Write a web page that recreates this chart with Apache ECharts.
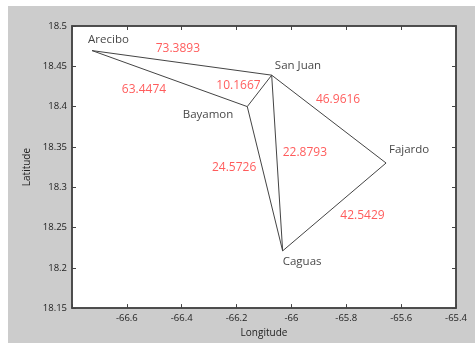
<!DOCTYPE html>
<html><head><meta charset="utf-8">
<script src="https://cdn.jsdelivr.net/npm/echarts@6/dist/echarts.min.js"></script>
<style>html,body{margin:0;padding:0;background:#fff;}#c{width:475px;height:343px;}</style>
</head><body><div id="c"></div>
<script>
// Data
var cities = ['Arecibo', 'San Juan', 'Bayamon', 'Fajardo', 'Caguas'];
var cityLon = [-66.727, -66.072, -66.161, -65.655, -66.032];
var cityLat = [18.4695, 18.439, 18.400, 18.330, 18.221];
var edgeFrom = [0, 0, 2, 2, 1, 1, 3];
var edgeTo   = [1, 2, 1, 4, 4, 3, 4];
var edgeWeights = ['73.3893', '63.4474', '10.1667', '24.5726', '22.8793', '46.9616', '42.5429'];
var edgeLabelLon = [-66.414, -66.5375, -66.193, -66.209, -65.951, -65.830, -65.741];
var edgeLabelLat = [18.4716, 18.4209, 18.4258, 18.3244, 18.3433, 18.4093, 18.265];
var cityLabelLon = [-66.667, -65.976, -66.304, -65.571, -65.961];
var cityLabelLat = [18.4827, 18.4505, 18.390, 18.3466, 18.2073];
var xTicks = [-66.8, -66.6, -66.4, -66.2, -66, -65.8, -65.6, -65.4];
var yTicks = [18.15, 18.2, 18.25, 18.3, 18.35, 18.4, 18.45, 18.5];

var FONT = '"Open Sans", "DejaVu Sans", sans-serif';
var series = [];
for (var i = 0; i < edgeFrom.length; i++) {
  var a = edgeFrom[i], b = edgeTo[i];
  series.push({
    type: 'line', xAxisIndex: 0, yAxisIndex: 0, symbol: 'none', silent: true,
    lineStyle: { color: '#444', width: 1 },
    data: [[cityLon[a], cityLat[a]], [cityLon[b], cityLat[b]]]
  });
}
series.push({
  type: 'scatter', symbolSize: 0, silent: true,
  label: { show: true, position: 'inside', formatter: function (p) { return p.data[2]; },
    color: '#ff3333', fontSize: 12, fontFamily: FONT },
  data: edgeWeights.map(function (w, i) { return [edgeLabelLon[i], edgeLabelLat[i], w]; })
});
series.push({
  type: 'scatter', symbolSize: 0, silent: true,
  label: { show: true, position: 'inside', formatter: function (p) { return p.data[2]; },
    color: '#111', fontSize: 11.5, fontFamily: FONT },
  data: cities.map(function (c, i) { return [cityLabelLon[i], cityLabelLat[i], c]; })
});

var axisLineStyle = { show: true, lineStyle: { color: '#444', width: 1.5 } };
var tickStyle = { show: true, inside: true, length: 4, lineStyle: { color: '#444' } };
var chart = echarts.init(document.getElementById('c'));
chart.setOption({
  animation: false,
  backgroundColor: '#fff',
  graphic: [{ type: 'rect', z: -10, shape: { x: 8, y: 6, width: 467, height: 337 }, style: { fill: '#cccccc' } }],
  grid: { left: 72, top: 26, right: 19, bottom: 34, show: true, backgroundColor: '#fff', borderColor: '#444', borderWidth: 1.5 },
  xAxis: [
    { type: 'value', min: -66.8, max: -65.4, interval: 0.2, position: 'bottom',
      name: 'Longitude', nameLocation: 'middle', nameGap: 17,
      nameTextStyle: { fontSize: 10, color: '#222', fontFamily: FONT },
      axisLine: axisLineStyle, axisTick: tickStyle, splitLine: { show: false },
      axisLabel: { fontSize: 9.5, color: '#222', margin: 5, fontFamily: FONT,
        formatter: function (v) { var r = Math.round(v * 10) / 10; return r === -66.8 ? '' : String(r); } } },
    { type: 'value', min: -66.8, max: -65.4, interval: 0.2, position: 'top',
      axisLine: axisLineStyle, axisTick: tickStyle, splitLine: { show: false }, axisLabel: { show: false } }
  ],
  yAxis: [
    { type: 'value', min: 18.15, max: 18.5, interval: 0.05, position: 'left',
      name: 'Latitude', nameLocation: 'middle', nameGap: 40, nameRotate: 90,
      nameTextStyle: { fontSize: 10, color: '#222', fontFamily: FONT },
      axisLine: axisLineStyle, axisTick: tickStyle, splitLine: { show: false },
      axisLabel: { fontSize: 9.5, color: '#222', margin: 5, fontFamily: FONT,
        formatter: function (v) { return String(Math.round(v * 100) / 100); } } },
    { type: 'value', min: 18.15, max: 18.5, interval: 0.05, position: 'right',
      axisLine: axisLineStyle, axisTick: tickStyle, splitLine: { show: false }, axisLabel: { show: false } }
  ],
  series: series
});
</script></body></html>
